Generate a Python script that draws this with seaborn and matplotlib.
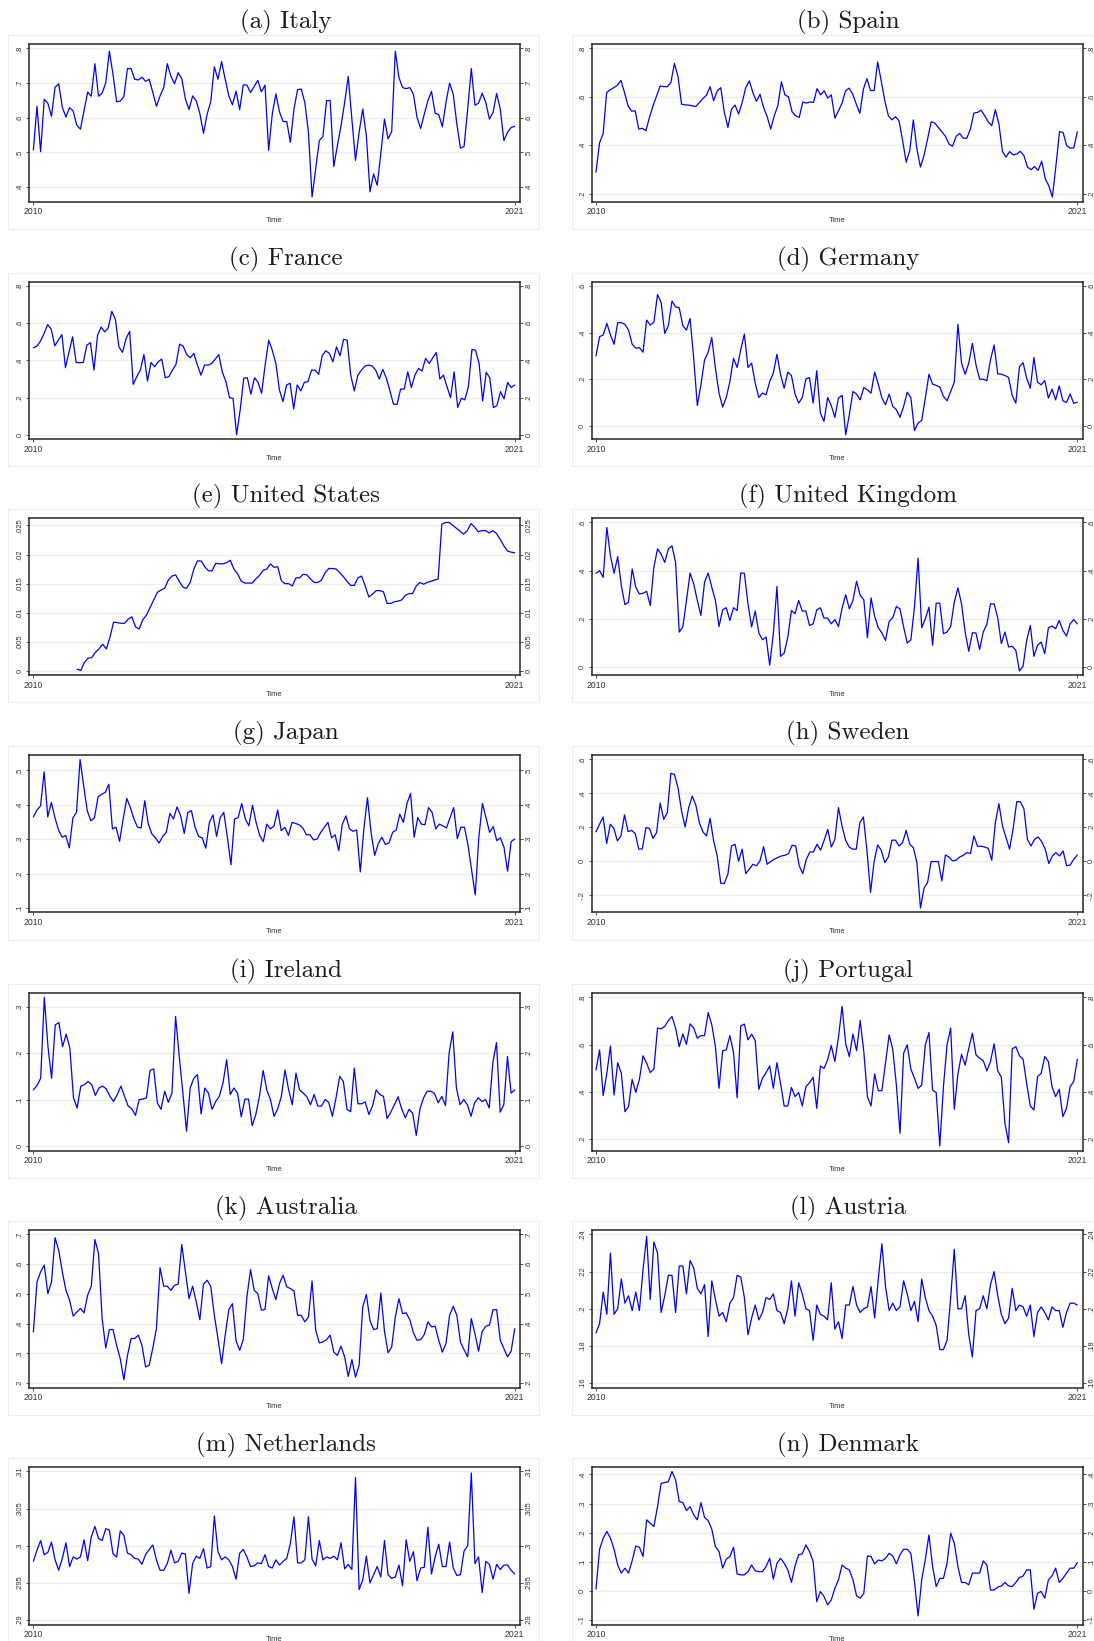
import numpy as np
import matplotlib
matplotlib.use("Agg")
import matplotlib.pyplot as plt
from matplotlib.patches import Rectangle
import seaborn as sns

# ---------------- data (monthly, 2010m1 - 2021m1) ----------------
titles = ["(a) Italy", "(b) Spain", "(c) France", "(d) Germany", "(e) United States",
          "(f) United Kingdom", "(g) Japan", "(h) Sweden", "(i) Ireland", "(j) Portugal",
          "(k) Australia", "(l) Austria", "(m) Netherlands", "(n) Denmark"]

italy = [.507,.633,.502,.653,.642,.604,.688,.698,.630,.602,.629,.619,.578,.567,.62,.674,.662,.756,.662,.671,
         .701,.792,.725,.646,.648,.661,.742,.742,.711,.709,.717,.705,.711,.673,.633,.663,.686,.756,.72,.698,
         .730,.713,.654,.624,.663,.649,.612,.555,.61,.646,.747,.711,.762,.711,.663,.637,.677,.623,.695,.694,
         .673,.69,.708,.675,.694,.506,.61,.669,.617,.589,.589,.529,.625,.681,.683,.644,.558,.371,.453,.534,
         .546,.649,.650,.459,.52,.577,.644,.719,.596,.477,.558,.625,.548,.386,.438,.405,.496,.596,.539,.56,
         .792,.716,.687,.684,.687,.668,.601,.569,.61,.649,.676,.613,.609,.574,.644,.70,.668,.582,.512,.517,
         .625,.742,.636,.642,.671,.644,.596,.615,.67,.625,.534,.558,.572,.575]

spain = [.289,.41,.447,.618,.629,.638,.648,.668,.618,.563,.541,.542,.467,.47,.46,.515,.563,.604,.645,.642,
         .642,.659,.738,.684,.57,.567,.566,.563,.56,.577,.593,.607,.642,.584,.625,.638,.536,.474,.549,.566,
         .529,.577,.638,.666,.618,.581,.611,.556,.519,.467,.522,.563,.662,.608,.60,.538,.522,.515,.579,.574,
         .579,.577,.634,.608,.625,.595,.608,.512,.542,.574,.625,.636,.611,.57,.532,.632,.675,.626,.626,.744,
         .666,.584,.522,.505,.518,.501,.419,.33,.378,.505,.385,.31,.358,.426,.497,.492,.474,.456,.437,.405,
         .396,.437,.449,.429,.429,.467,.533,.536,.545,.522,.497,.481,.547,.488,.374,.351,.374,.36,.364,.375,
         .358,.31,.299,.312,.296,.334,.262,.232,.186,.316,.456,.453,.399,.388,.389,.456]

france = [.468,.477,.504,.545,.593,.568,.479,.509,.539,.361,.446,.527,.389,.388,.389,.482,.496,.348,.536,.580,
          .554,.575,.664,.621,.473,.443,.518,.557,.271,.313,.348,.432,.289,.389,.366,.393,.407,.307,.313,.348,
          .379,.488,.477,.432,.414,.438,.375,.321,.375,.375,.384,.407,.432,.336,.286,.2,.196,0.0,.134,.304,
          .307,.218,.307,.282,.223,.375,.509,.455,.384,.241,.179,.268,.277,.139,.268,.236,.282,.286,.348,.348,
          .325,.425,.452,.438,.393,.473,.425,.514,.509,.321,.236,.321,.348,.37,.375,.37,.348,.3,.352,.304,
          .236,.164,.164,.246,.246,.339,.254,.321,.357,.343,.411,.384,.414,.443,.3,.321,.259,.2,.339,.146,
          .196,.188,.259,.459,.455,.384,.182,.336,.307,.146,.157,.232,.193,.282,.254,.268]

germany = [.30,.383,.39,.44,.39,.35,.443,.443,.436,.411,.35,.333,.336,.316,.454,.433,.444,.564,.53,.397,
           .43,.536,.511,.507,.43,.411,.461,.29,.087,.176,.283,.316,.379,.247,.14,.08,.121,.19,.29,.25,
           .326,.394,.25,.269,.183,.121,.14,.133,.19,.226,.307,.219,.161,.23,.216,.136,.097,.121,.201,.207,
           .097,.236,.054,.019,.121,.087,.036,.119,.13,-.039,.047,.147,.136,.111,.164,.154,.14,.23,.179,.119,
           .09,.136,.083,.069,.036,.083,.144,.121,-.021,.011,.023,.119,.221,.179,.173,.166,.126,.107,.147,.187,
           .436,.269,.221,.269,.354,.261,.20,.20,.193,.283,.347,.223,.221,.216,.207,.13,.097,.253,.271,.204,
           .161,.293,.187,.176,.194,.119,.157,.111,.171,.107,.10,.136,.096,.101]

united_states = [None]*12 + [
           .0003,.0001,.0015,.0022,.0023,.0032,.0038,.0046,.0038,.0058,.0084,.0083,.0082,.0082,.0089,.0093,.0076,.0072,
           .0088,.0096,.0109,.0122,.0135,.0139,.0142,.0156,.0163,.0165,.0154,.0144,.0142,.0152,.0175,.0189,.0189,.0179,
           .0172,.0172,.0185,.0184,.0184,.0186,.019,.0175,.0167,.0154,.0151,.0151,.0151,.0158,.0164,.0173,.0175,.0184,
           .0178,.0179,.0155,.015,.015,.0146,.016,.016,.0166,.0165,.0158,.0152,.0152,.0156,.0169,.0176,.0176,.0175,
           .0169,.0162,.0154,.0147,.0147,.016,.0163,.0146,.0127,.0132,.0138,.0138,.0136,.0116,.0116,.0119,.012,.0122,
           .013,.0133,.0133,.0146,.0152,.0149,.0152,.0154,.0156,.0158,.0252,.0255,.0255,.025,.0245,.024,.0235,.0241,
           .0253,.0247,.0239,.0241,.0241,.0237,.0241,.0236,.0226,.0215,.0206,.0204,.0203]

united_kingdom = [.389,.40,.372,.579,.462,.389,.458,.338,.259,.269,.407,.331,.303,.306,.314,.255,.414,.49,.469,.434,
                  .49,.503,.434,.145,.166,.276,.39,.345,.276,.214,.352,.39,.331,.276,.168,.237,.246,.193,.246,.234,
                  .39,.389,.262,.166,.232,.141,.113,.124,.007,.138,.334,.044,.058,.124,.234,.221,.276,.232,.232,.172,
                  .179,.237,.246,.203,.203,.179,.197,.168,.244,.30,.241,.276,.356,.297,.279,.121,.287,.21,.163,.141,
                  .11,.189,.204,.251,.241,.166,.099,.113,.248,.452,.163,.20,.248,.09,.265,.265,.138,.145,.168,.269,
                  .328,.262,.145,.065,.142,.141,.072,.145,.177,.262,.262,.204,.097,.145,.083,.086,.069,-.017,.003,.11,
                  .172,.044,.09,.103,.055,.163,.17,.159,.193,.152,.128,.179,.197,.179]

japan = [.365,.385,.397,.496,.365,.407,.363,.327,.306,.311,.275,.362,.378,.532,.455,.383,.354,.362,.423,.431,
         .436,.46,.33,.335,.294,.359,.419,.392,.359,.335,.333,.412,.344,.315,.304,.289,.308,.32,.375,.359,
         .394,.368,.317,.378,.383,.335,.308,.304,.274,.349,.371,.308,.363,.378,.306,.226,.359,.363,.404,.359,
         .339,.399,.349,.311,.293,.344,.33,.339,.385,.325,.335,.311,.349,.346,.342,.333,.313,.313,.298,.301,
         .32,.335,.349,.304,.313,.267,.344,.368,.33,.323,.327,.205,.33,.421,.32,.253,.287,.306,.285,.289,
         .32,.327,.373,.349,.404,.433,.306,.363,.344,.342,.392,.378,.33,.344,.339,.333,.363,.392,.302,.335,
         .335,.282,.21,.138,.306,.404,.363,.32,.337,.296,.304,.277,.207,.293,.301]

sweden = [.173,.218,.261,.104,.218,.194,.12,.149,.273,.175,.182,.163,.071,.073,.198,.194,.135,.169,.343,.247,
          .286,.518,.512,.433,.296,.202,.316,.384,.331,.227,.173,.149,.253,.12,.031,-.131,-.131,-.076,.09,.10,
          0.0,.071,-.073,-.047,-.018,-.027,.002,.086,-.018,-.002,.012,.022,.031,.035,.045,.094,.09,-.027,-.073,.012,
          .055,.055,.10,.065,.124,.188,.084,.129,.316,.208,.124,.084,.071,.071,.227,.261,.061,-.184,-.002,.096,
          .065,-.008,.025,.124,.124,.09,.11,.182,.10,.08,-.008,-.276,-.159,-.125,-.002,-.002,-.002,-.116,.037,.025,
          .002,.006,.025,.035,.051,.045,.149,.088,.088,.084,.076,.006,.227,.339,.208,.139,.071,.194,.351,.351,
          .31,.129,.09,.129,.143,.116,.071,-.014,.031,.051,.031,.061,-.027,-.022,.012,.037]

ireland = [.121,.13,.146,.32,.214,.146,.261,.266,.214,.241,.211,.104,.082,.129,.132,.139,.132,.109,.125,.129,
           .123,.107,.096,.111,.129,.107,.086,.08,.066,.10,.101,.104,.163,.166,.093,.079,.118,.094,.114,.279,
           .193,.114,.032,.125,.146,.154,.069,.125,.114,.079,.096,.107,.136,.186,.111,.125,.114,.063,.101,.101,
           .044,.068,.107,.163,.121,.10,.064,.08,.107,.164,.121,.089,.157,.121,.114,.106,.089,.111,.086,.086,
           .10,.094,.064,.104,.15,.139,.079,.074,.168,.091,.091,.095,.068,.086,.121,.111,.107,.059,.073,.089,
           .106,.08,.061,.079,.071,.023,.08,.104,.118,.118,.113,.093,.107,.087,.20,.246,.125,.089,.10,.089,
           .064,.093,.104,.096,.10,.082,.18,.223,.073,.089,.193,.114,.121]

portugal = [.492,.577,.383,.478,.594,.386,.523,.478,.315,.336,.452,.397,.452,.552,.521,.481,.496,.67,.667,.677,
            .702,.719,.67,.591,.645,.601,.688,.67,.627,.638,.638,.736,.684,.591,.414,.574,.577,.638,.566,.374,
            .679,.687,.62,.644,.617,.41,.457,.481,.509,.414,.523,.435,.339,.339,.418,.379,.396,.339,.421,.438,
            .461,.329,.509,.499,.535,.596,.528,.631,.762,.603,.549,.645,.574,.702,.57,.379,.339,.475,.404,.404,
            .521,.641,.58,.428,.223,.563,.599,.496,.457,.414,.428,.599,.651,.407,.396,.169,.421,.599,.67,.325,
            .475,.559,.513,.584,.648,.556,.542,.532,.488,.528,.603,.489,.461,.265,.183,.582,.591,.552,.538,.435,
            .339,.322,.464,.478,.549,.528,.421,.379,.41,.294,.329,.421,.443,.538]

australia = [.372,.54,.574,.597,.501,.54,.689,.647,.574,.512,.479,.425,.439,.451,.436,.496,.526,.683,.636,.417,
             .318,.38,.38,.327,.282,.211,.293,.35,.35,.361,.327,.254,.26,.318,.383,.588,.526,.526,.512,.529,
             .533,.666,.574,.484,.526,.473,.413,.533,.546,.526,.428,.35,.265,.361,.447,.467,.342,.31,.346,.49,
             .582,.512,.501,.445,.448,.561,.518,.481,.535,.563,.524,.518,.51,.428,.428,.406,.422,.543,.378,.335,
             .338,.346,.361,.304,.293,.324,.288,.222,.279,.22,.26,.456,.498,.411,.38,.383,.503,.375,.302,.321,
             .422,.484,.434,.436,.413,.369,.344,.346,.363,.406,.389,.391,.344,.304,.333,.428,.458,.428,.338,.312,
             .288,.417,.366,.307,.374,.391,.395,.447,.447,.344,.316,.288,.307,.383]

austria = [.187,.192,.209,.197,.23,.197,.20,.216,.203,.207,.199,.209,.199,.221,.239,.205,.236,.23,.198,.207,
           .218,.218,.198,.223,.223,.208,.226,.222,.211,.208,.213,.185,.215,.205,.196,.198,.193,.203,.206,.218,
           .217,.206,.186,.195,.202,.194,.198,.206,.205,.208,.199,.198,.192,.20,.215,.196,.214,.208,.20,.199,
           .183,.202,.197,.196,.194,.214,.189,.193,.184,.202,.202,.212,.202,.198,.20,.201,.212,.195,.216,.235,
           .212,.199,.203,.199,.201,.215,.208,.199,.204,.193,.216,.206,.199,.196,.191,.178,.178,.183,.206,.232,
           .20,.20,.207,.186,.174,.199,.20,.207,.20,.213,.22,.207,.197,.192,.195,.211,.199,.202,.201,.196,
           .202,.185,.198,.201,.198,.194,.201,.199,.199,.19,.198,.203,.203,.202]

netherlands = [.2979,.2994,.3007,.2988,.2991,.3005,.2981,.2967,.2983,.3004,.2972,.2985,.2982,.2985,.3008,.298,.3012,.3026,.301,.3007,
               .3023,.3021,.2989,.2985,.302,.3014,.299,.2988,.2983,.2982,.2975,.2988,.2995,.3001,.2981,.2967,.2967,.2976,.2994,.2977,
               .2979,.299,.2989,.2936,.2976,.2986,.2983,.2996,.297,.2972,.304,.2992,.2981,.2985,.2981,.2972,.2955,.299,.2995,.2985,
               .2972,.2973,.2977,.2976,.2988,.2972,.297,.2981,.2974,.2979,.2983,.3003,.3039,.2977,.2977,.2981,.3039,.2982,.2973,.3007,
               .2981,.2985,.2983,.2986,.2981,.3004,.2969,.2975,.2968,.3092,.2941,.2954,.2986,.295,.2961,.2972,.2958,.3007,.2961,.2956,
               .2958,.2974,.2946,.3008,.2979,.2992,.2953,.297,.2971,.3025,.2962,.2985,.3002,.2972,.2972,.3005,.297,.296,.2961,.2993,
               .30,.3098,.2976,.2985,.2937,.2979,.2975,.2955,.2975,.2968,.2974,.2974,.2967,.2962]

denmark = [.006,.143,.181,.204,.181,.143,.089,.061,.078,.061,.104,.154,.15,.118,.244,.232,.221,.289,.369,.372,
           .375,.41,.381,.307,.303,.276,.289,.261,.244,.303,.252,.241,.212,.152,.135,.078,.109,.118,.15,.058,
           .055,.055,.066,.089,.069,.066,.066,.084,.112,.04,.095,.112,.095,.072,.029,.086,.124,.127,.158,.135,
           .101,-.037,-.002,-.019,-.048,-.031,.009,.038,.089,.078,.072,.038,-.017,-.025,-.008,.12,.118,.093,.106,.103,
           .112,.129,.12,.093,.124,.143,.143,.129,.032,-.086,.038,.109,.192,.084,.015,.043,.043,.095,.198,.164,
           .084,.029,.029,.021,.061,.061,.061,.103,.089,.003,.003,.013,.017,.029,.017,.015,.029,.046,.051,.072,
           .072,-.063,-.008,-.002,-.025,.038,.051,.078,.029,.043,.061,.078,.078,.097]

series = [italy, spain, france, germany, united_states, united_kingdom, japan, sweden,
          ireland, portugal, australia, austria, netherlands, denmark]

yticks = [[.4, .5, .6, .7, .8], [.2, .4, .6, .8], [0, .2, .4, .6, .8], [0, .2, .4, .6],
          [0, .005, .01, .015, .02, .025], [0, .2, .4, .6], [.1, .2, .3, .4, .5], [-.2, 0, .2, .4, .6],
          [0, .1, .2, .3], [.2, .4, .6, .8], [.2, .3, .4, .5, .6, .7], [.16, .18, .2, .22, .24],
          [.29, .295, .3, .305, .31], [-.1, 0, .1, .2, .3, .4]]

xticks = [2010, 2021]
xlabel = "Time"

# ---------------- style ----------------
sns.set_style("white")
plt.rcParams["font.family"] = ["Liberation Sans", "DejaVu Sans"]

W, H = 1094, 1641
fig = plt.figure(figsize=(W / 100, H / 100), dpi=100)
fig.patch.set_facecolor("white")

col_left = [29, 591.6]
ax_w = 491
row_top = [44, 281.7, 518, 755, 993, 1230, 1467]
ax_h = 157.5


def stata_fmt(v):
    s = f"{v:g}"
    if s.startswith("0."):
        s = s[1:]
    elif s.startswith("-0."):
        s = "-" + s[2:]
    return s


for k, (title, vals, ticks) in enumerate(zip(titles, series, yticks)):
    r, c = divmod(k, 2)
    x0 = col_left[c]
    y0 = row_top[r]
    # outer graph region box (faint)
    reg_x0 = 8 if c == 0 else 572
    reg_x1 = 539 if c == 0 else 1100
    fig.add_artist(Rectangle(((reg_x0) / W, 1 - (y0 + ax_h + 27) / H),
                             (reg_x1 - reg_x0) / W, (ax_h + 36) / H,
                             transform=fig.transFigure, fill=False,
                             edgecolor="#e6eef0", linewidth=0.8, zorder=0))
    ax = fig.add_axes([x0 / W, 1 - (y0 + ax_h) / H, ax_w / W, ax_h / H])
    y = np.array([np.nan if v is None else v for v in vals], dtype=float)
    x = np.linspace(2010, 2021, len(y))
    sns.lineplot(x=x, y=y, ax=ax, color="#0000ff", linewidth=0.9, estimator=None)

    dmin, dmax = np.nanmin(y), np.nanmax(y)
    lo = min(ticks[0], dmin)
    hi = max(ticks[-1], dmax)
    pad = 0.03 * (hi - lo)
    ax.set_ylim(lo - pad, hi + pad)
    ax.set_xlim(2010 - 0.1, 2021 + 0.12)

    ax.set_yticks(ticks)
    ax.set_yticklabels([stata_fmt(t) for t in ticks])
    ax.set_xticks(xticks)
    ax.set_xticklabels([str(t) for t in xticks])
    ax.grid(axis="y", color="#e8f0f2", linewidth=1.0)
    ax.grid(axis="x", visible=False)
    ax.set_axisbelow(True)

    ax.tick_params(axis="y", which="both", left=True, right=True, labelleft=True, labelright=True,
                   labelrotation=90, labelsize=5.5, length=2.5, width=0.6, pad=1.5, colors="#333333")
    ax.tick_params(axis="x", bottom=True, labelsize=6.2, length=2.5, width=0.6, pad=1.5, colors="#333333")
    for lab in ax.get_yticklabels():
        lab.set_va("center")
    ax.set_xlabel(xlabel, fontsize=5.5, labelpad=(1 if r < 6 else -2.5), color="#333333")
    ax.set_ylabel("")
    for sp in ax.spines.values():
        sp.set_visible(True)
        sp.set_color("#262626")
        sp.set_linewidth(1.1)

    fig.text((x0 + ax_w / 2 + 11) / W, 1 - (y0 - 22) / H, title,
             family="cmr10", fontsize=18, ha="center", va="center", color="#1a1a1a")

fig.savefig("out.png", dpi=100, facecolor="white")
